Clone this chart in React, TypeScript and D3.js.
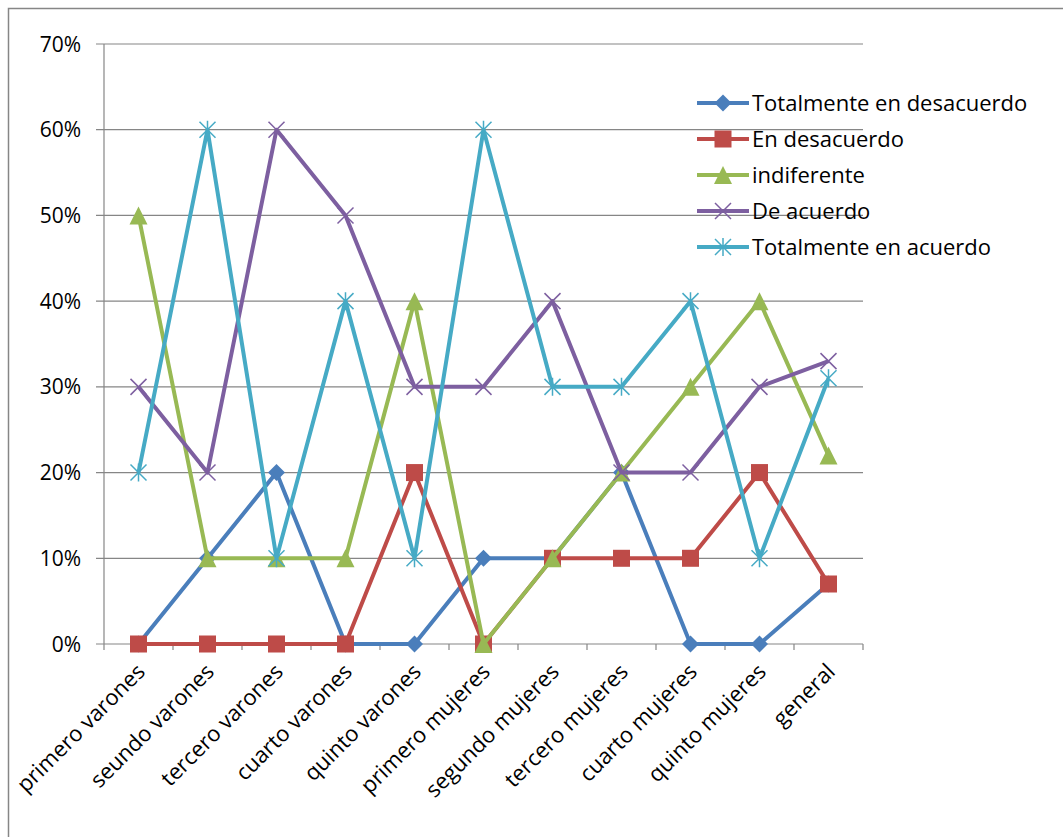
import React from "react";
import * as d3 from "d3";

const categories = [
  "primero varones",
  "seundo varones",
  "tercero varones",
  "cuarto varones",
  "quinto varones",
  "primero mujeres",
  "segundo mujeres",
  "tercero mujeres",
  "cuarto mujeres",
  "quinto mujeres",
  "general",
];

const totalmenteDesacuerdo = [0, 0.1, 0.2, 0, 0, 0.1, 0.1, 0.2, 0, 0, 0.07];
const enDesacuerdo = [0, 0, 0, 0, 0.2, 0, 0.1, 0.1, 0.1, 0.2, 0.07];
const indiferente = [0.5, 0.1, 0.1, 0.1, 0.4, 0, 0.1, 0.2, 0.3, 0.4, 0.22];
const deAcuerdo = [0.3, 0.2, 0.6, 0.5, 0.3, 0.3, 0.4, 0.2, 0.2, 0.3, 0.33];
const totalmenteAcuerdo = [0.2, 0.6, 0.1, 0.4, 0.1, 0.6, 0.3, 0.3, 0.4, 0.1, 0.31];

const yTicks = [0, 0.1, 0.2, 0.3, 0.4, 0.5, 0.6, 0.7];

const seriesNames = [
  "Totalmente en desacuerdo",
  "En desacuerdo",
  "indiferente",
  "De acuerdo",
  "Totalmente en acuerdo",
];

const series = [
  { name: seriesNames[0], values: totalmenteDesacuerdo, color: "#4A7EBB", marker: "diamond" },
  { name: seriesNames[1], values: enDesacuerdo, color: "#BE4B48", marker: "square" },
  { name: seriesNames[2], values: indiferente, color: "#98B954", marker: "triangle" },
  { name: seriesNames[3], values: deAcuerdo, color: "#7D5FA0", marker: "x" },
  { name: seriesNames[4], values: totalmenteAcuerdo, color: "#46AAC5", marker: "star" },
];

const FONT = "'Open Sans', sans-serif";

function Marker({ type, x, y, color }: { type: string; x: number; y: number; color: string }) {
  if (type === "diamond") {
    const r = 8.5;
    return <path d={`M${x},${y - r}L${x + r},${y}L${x},${y + r}L${x - r},${y}Z`} fill={color} />;
  }
  if (type === "square") {
    const r = 8.5;
    return <rect x={x - r} y={y - r} width={2 * r} height={2 * r} fill={color} />;
  }
  if (type === "triangle") {
    const r = 9;
    return <path d={`M${x},${y - r}L${x + r},${y + r}L${x - r},${y + r}Z`} fill={color} />;
  }
  if (type === "x") {
    const r = 8;
    return (
      <path
        d={`M${x - r},${y - r}L${x + r},${y + r}M${x - r},${y + r}L${x + r},${y - r}`}
        stroke={color}
        strokeWidth={1.5}
      />
    );
  }
  const r = 8;
  return (
    <path
      d={`M${x - r},${y - r}L${x + r},${y + r}M${x - r},${y + r}L${x + r},${y - r}M${x},${y - r - 1}L${x},${y + r + 1}`}
      stroke={color}
      strokeWidth={1.5}
    />
  );
}

export default function App() {
  const width = 1063;
  const height = 837;
  const left = 104;
  const right = 863;
  const top = 44;
  const bottom = 644;

  const x = d3.scaleBand<string>().domain(categories).range([left, right]);
  const y = d3.scaleLinear().domain([0, 0.7]).range([bottom, top]);
  const cx = (c: string) => (x(c) as number) + x.bandwidth() / 2;

  const line = d3
    .line<number>()
    .x((_, i) => cx(categories[i]))
    .y((d) => y(d));

  const fmt = d3.format(".0%");
  const boundaries = categories.map((c) => x(c) as number).concat([right]);

  return (
    <svg
      width={width}
      height={height}
      style={{ position: "absolute", left: 0, top: 0, display: "block" }}
    >
      <rect x={0} y={0} width={width} height={height} fill="#fff" />
      <rect x={8.5} y={8.5} width={1100} height={900} fill="none" stroke="#868686" strokeWidth={1.5} />
      {yTicks.map((t) => (
        <g key={t}>
          <line x1={left - 8} x2={right} y1={y(t)} y2={y(t)} stroke="#868686" strokeWidth={1.2} />
          <text
            x={81}
            y={y(t)}
            dy="0.36em"
            textAnchor="end"
            fontFamily={FONT}
            fontSize={21}
            fill="#000"
          >
            {fmt(t)}
          </text>
        </g>
      ))}
      <line x1={left} x2={left} y1={top} y2={bottom} stroke="#868686" strokeWidth={1.2} />
      {boundaries.map((b, i) => (
        <line key={i} x1={b} x2={b} y1={bottom} y2={bottom + 6} stroke="#868686" strokeWidth={1.2} />
      ))}
      {categories.map((c) => (
        <text
          key={c}
          transform={`translate(${cx(c) + 8},${bottom + 29}) rotate(-45)`}
          textAnchor="end"
          fontFamily={FONT}
          fontSize={22}
          fill="#000"
        >
          {c}
        </text>
      ))}
      {series.map((s) => (
        <g key={s.name}>
          <path d={line(s.values) || ""} fill="none" stroke={s.color} strokeWidth={4} strokeLinejoin="round" />
          {s.values.map((v, i) => (
            <Marker key={i} type={s.marker} x={cx(categories[i])} y={y(v)} color={s.color} />
          ))}
        </g>
      ))}
      {series.map((s, i) => {
        const ly = 103 + i * 36;
        return (
          <g key={s.name}>
            <line x1={697} x2={749} y1={ly} y2={ly} stroke={s.color} strokeWidth={4} />
            <Marker type={s.marker} x={723} y={ly} color={s.color} />
            <text x={752} y={ly} dy="0.36em" fontFamily={FONT} fontSize={22} fill="#000">
              {s.name}
            </text>
          </g>
        );
      })}
    </svg>
  );
}
